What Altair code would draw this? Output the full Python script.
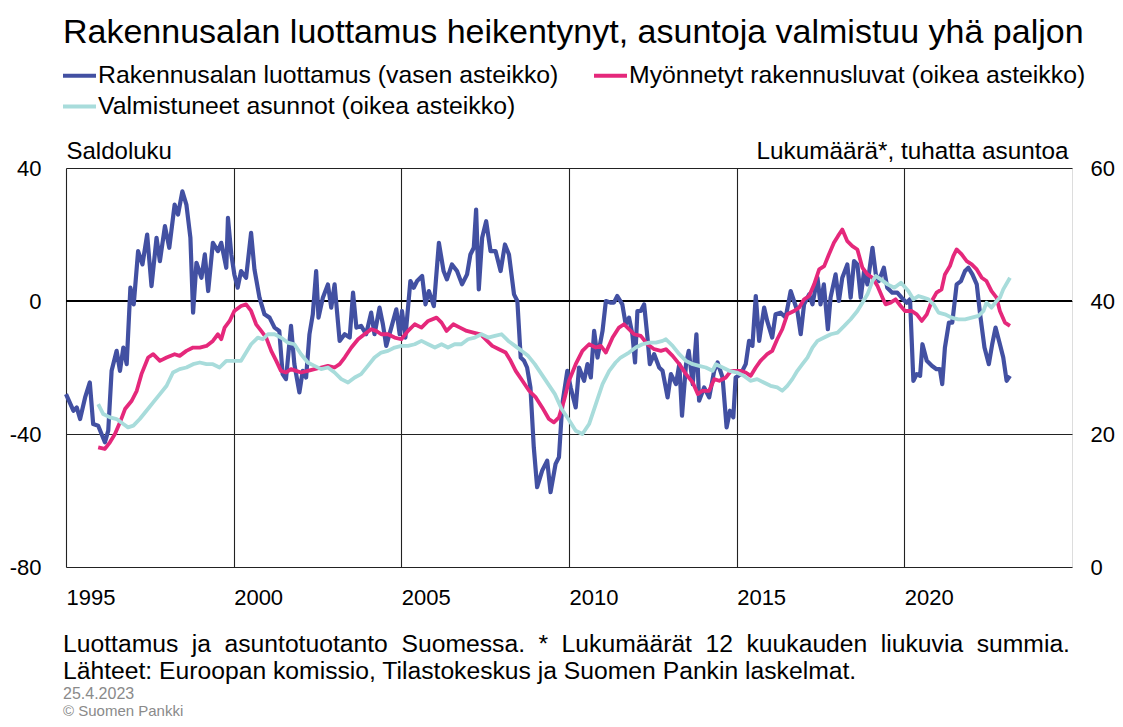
import altair as alt
import pandas as pd

FONT = "Liberation Sans"

S_BLUE = "Rakennusalan luottamus (vasen asteikko)"
S_PINK = "Myönnetyt rakennusluvat (oikea asteikko)"
S_CYAN = "Valmistuneet asunnot (oikea asteikko)"

# Rakennusalan luottamus, saldoluku (left scale): (year, value)
blue_points = [
    (1995.00, -28), (1995.22, -33), (1995.32, -32), (1995.42, -35.5), (1995.57, -29),
    (1995.71, -24.5), (1995.81, -37), (1995.96, -37.5), (1996.06, -40), (1996.16, -42.5),
    (1996.26, -39), (1996.36, -21), (1996.51, -15), (1996.61, -21), (1996.71, -14),
    (1996.81, -19), (1996.92, 4), (1997.02, -1), (1997.15, 15), (1997.28, 11),
    (1997.42, 20), (1997.55, 4.5), (1997.70, 19), (1997.80, 12), (1997.95, 22.5),
    (1998.08, 16), (1998.24, 29), (1998.34, 26), (1998.47, 33), (1998.59, 29),
    (1998.71, 19), (1998.79, -3.5), (1998.89, 11.5), (1999.04, 7), (1999.14, 14),
    (1999.24, 3), (1999.38, 17.5), (1999.53, 15), (1999.63, 17.5), (1999.78, 10),
    (1999.83, 25), (1999.93, 14),
    (2000.02, 8), (2000.12, 4), (2000.22, 9), (2000.37, 7), (2000.52, 20.5),
    (2000.62, 9.5), (2000.77, 1), (2000.92, -4), (2001.07, -5), (2001.22, -8),
    (2001.36, -9), (2001.46, -22), (2001.56, -23.5), (2001.71, -7.5), (2001.81, -19),
    (2001.96, -27.5), (2002.06, -21), (2002.16, -23), (2002.26, -10), (2002.36, -4),
    (2002.46, 9), (2002.53, -5), (2002.66, 1), (2002.81, 5), (2002.91, -2),
    (2003.01, 5), (2003.16, -12), (2003.31, -10), (2003.46, -11), (2003.56, 2.5),
    (2003.66, -8), (2003.80, -7.5), (2003.95, -10), (2004.10, -3.5), (2004.20, -10),
    (2004.35, -2), (2004.45, -7), (2004.55, -13.5), (2004.70, -8), (2004.85, -2.5),
    (2004.95, -10),
    (2005.02, -3), (2005.12, -11), (2005.27, 6), (2005.37, 4), (2005.47, 6),
    (2005.62, 7.5), (2005.72, -1), (2005.82, 3), (2005.97, -1.5), (2006.12, 17.5),
    (2006.26, 9), (2006.36, 6.5), (2006.51, 11), (2006.66, 9), (2006.81, 5),
    (2006.96, 8), (2007.06, 14), (2007.16, 16), (2007.23, 27.5), (2007.31, 3.5),
    (2007.41, 19), (2007.53, 24), (2007.66, 15), (2007.81, 15), (2007.96, 9),
    (2008.09, 17), (2008.21, 14), (2008.36, 2), (2008.46, 0), (2008.56, -17),
    (2008.66, -18), (2008.75, -20), (2008.85, -26), (2008.95, -44), (2009.05, -56),
    (2009.20, -51), (2009.35, -48), (2009.45, -57.5), (2009.60, -49), (2009.70, -47),
    (2009.80, -31), (2009.95, -21),
    (2010.05, -26), (2010.20, -32), (2010.30, -20), (2010.45, -24), (2010.55, -19),
    (2010.65, -23), (2010.75, -9), (2010.85, -17), (2011.00, -9), (2011.10, 0),
    (2011.25, -0.5), (2011.34, -0.5), (2011.44, 1.5), (2011.59, -1), (2011.69, -7),
    (2011.79, -5), (2011.89, -10), (2011.97, -18.5), (2012.04, -3), (2012.14, -3),
    (2012.24, -1), (2012.34, -11), (2012.41, -19), (2012.54, -16), (2012.69, -20),
    (2012.79, -21), (2012.94, -29), (2013.04, -22), (2013.19, -25), (2013.29, -19),
    (2013.37, -34.5), (2013.49, -19), (2013.57, -15), (2013.69, -25), (2013.80, -10),
    (2013.88, -30), (2014.03, -26), (2014.18, -29), (2014.33, -21), (2014.43, -18.5),
    (2014.58, -23), (2014.70, -38), (2014.80, -33), (2014.90, -35),
    (2014.97, -23), (2015.12, -22), (2015.27, -19), (2015.37, -12), (2015.47, -13.5),
    (2015.57, 1.5), (2015.67, -12), (2015.82, -2), (2015.91, -6), (2016.06, -11),
    (2016.16, -4), (2016.31, -3.5), (2016.46, -5), (2016.61, 3), (2016.71, 0),
    (2016.81, -3), (2016.91, -10), (2017.01, -1), (2017.16, 2), (2017.26, -1),
    (2017.41, 7), (2017.50, -1), (2017.60, 5), (2017.72, -8.5), (2017.80, 1),
    (2017.95, 8), (2018.05, 0), (2018.15, 7), (2018.30, 11), (2018.40, 1),
    (2018.50, 12), (2018.60, 11), (2018.70, 1), (2018.80, 9), (2018.90, 5),
    (2019.05, 16), (2019.15, 8), (2019.24, 6), (2019.39, 10), (2019.49, 4),
    (2019.64, 2.5), (2019.79, 2.5),
    (2019.92, 1), (2020.07, -0.5), (2020.17, 0.5), (2020.27, -24), (2020.37, -22),
    (2020.47, -22.5), (2020.54, -13), (2020.67, -18), (2020.82, -19.5), (2020.96, -20.5),
    (2021.06, -20.5), (2021.13, -25), (2021.21, -14), (2021.33, -6.5), (2021.43, -6.5),
    (2021.56, 5), (2021.69, 6), (2021.81, 9), (2021.91, 10), (2022.03, 8),
    (2022.16, 5), (2022.26, -4), (2022.39, -14), (2022.52, -19), (2022.62, -13),
    (2022.72, -8), (2022.85, -13), (2022.95, -17), (2023.05, -24), (2023.15, -22.5),
]

# Myönnetyt rakennusluvat, tuhatta asuntoa (right scale)
pink_points = [
    (1995.96, 18.0), (1996.16, 17.75), (1996.31, 18.75), (1996.46, 20), (1996.61, 21.75),
    (1996.76, 23.75), (1996.96, 25), (1997.11, 26.5), (1997.25, 29), (1997.45, 31.5),
    (1997.60, 32), (1997.80, 31), (1998.00, 31.5), (1998.24, 32), (1998.39, 31.75),
    (1998.59, 32.5), (1998.79, 33), (1998.99, 33), (1999.19, 33.25), (1999.38, 34),
    (1999.53, 35), (1999.63, 34.25), (1999.73, 36), (1999.88, 37),
    (2000.02, 38.5), (2000.22, 39.25), (2000.37, 39.5), (2000.52, 38.5), (2000.67, 36.5),
    (2000.82, 35.5), (2000.97, 34.5), (2001.12, 32.5), (2001.27, 31), (2001.41, 29.5),
    (2001.56, 29.25), (2001.71, 29.75), (2001.86, 29.5), (2002.01, 29.25), (2002.21, 29.5),
    (2002.41, 29.75), (2002.61, 30), (2002.81, 30.25), (2003.01, 30), (2003.16, 30.5),
    (2003.31, 31.5), (2003.51, 33), (2003.71, 34.25), (2003.90, 35), (2004.10, 35.75),
    (2004.25, 35.5), (2004.40, 35), (2004.60, 35), (2004.80, 34.5), (2005.00, 34.25),
    (2005.20, 35.5), (2005.40, 36.5), (2005.60, 36), (2005.80, 37), (2006.05, 37.5),
    (2006.20, 36.75), (2006.35, 35.5), (2006.55, 36.5), (2006.75, 36), (2006.95, 35.5),
    (2007.15, 35.25), (2007.36, 35), (2007.56, 34), (2007.71, 33.25), (2007.91, 32.75),
    (2008.11, 32.25), (2008.26, 31), (2008.41, 29.5), (2008.61, 28), (2008.81, 26.5),
    (2009.01, 25.5), (2009.20, 24), (2009.40, 22.25), (2009.55, 21.75), (2009.70, 22.5),
    (2009.85, 25), (2010.00, 28),
    (2010.20, 30.5), (2010.40, 32.5), (2010.60, 33.5), (2010.80, 33), (2010.95, 33.25),
    (2011.10, 32.25), (2011.30, 34.5), (2011.49, 36), (2011.64, 36.5), (2011.79, 35.75),
    (2011.94, 35), (2012.14, 34.75), (2012.34, 33.5), (2012.54, 32.75), (2012.74, 32.5),
    (2012.89, 32.75), (2013.09, 31.75), (2013.29, 30.5), (2013.49, 29), (2013.69, 27.75),
    (2013.84, 26), (2013.98, 26.5), (2014.18, 26.5), (2014.33, 28.25), (2014.48, 28),
    (2014.68, 28.5), (2014.83, 29.5),
    (2015.12, 29.5), (2015.27, 29.25), (2015.42, 28.75), (2015.57, 30), (2015.71, 31),
    (2015.91, 32), (2016.06, 32.5), (2016.21, 34.25), (2016.36, 35.75), (2016.51, 38),
    (2016.71, 38.5), (2016.86, 39), (2017.01, 40.25), (2017.16, 40.75), (2017.31, 42.5),
    (2017.46, 44.75), (2017.61, 45.25), (2017.75, 47), (2017.90, 48.75), (2018.02, 49.75),
    (2018.15, 50.75), (2018.30, 49), (2018.45, 48.25), (2018.60, 47.75), (2018.75, 45),
    (2018.90, 44), (2019.05, 43.5), (2019.20, 42.25), (2019.35, 40.5), (2019.44, 39.5),
    (2019.59, 39.75), (2019.74, 40.25), (2019.89, 39.25),
    (2020.02, 38.5), (2020.22, 38.5), (2020.37, 38), (2020.52, 37), (2020.67, 38),
    (2020.82, 40), (2020.96, 41.25), (2021.11, 41.75), (2021.21, 44), (2021.36, 45.25),
    (2021.46, 46.75), (2021.56, 47.75), (2021.71, 47), (2021.86, 46), (2022.01, 45.5),
    (2022.16, 44.75), (2022.31, 43.5), (2022.45, 43), (2022.60, 41.5), (2022.75, 40.5),
    (2022.85, 38.5), (2023.00, 36.75), (2023.15, 36.25),
]

# Valmistuneet asunnot, tuhatta asuntoa (right scale)
cyan_points = [
    (1995.96, 24.5), (1996.11, 23), (1996.31, 22.5), (1996.51, 22.25), (1996.71, 21.5),
    (1996.85, 21), (1997.01, 21.25), (1997.20, 22.25), (1997.40, 23.5), (1997.60, 24.75),
    (1997.80, 26), (1998.00, 27.25), (1998.19, 29.25), (1998.39, 29.75), (1998.59, 30),
    (1998.79, 30.5), (1998.99, 30.75), (1999.19, 30.5), (1999.38, 30.5), (1999.58, 30),
    (1999.78, 31), (1999.98, 31),
    (2000.22, 31), (2000.37, 32.25), (2000.52, 33.5), (2000.72, 34.5), (2000.87, 34.25),
    (2001.02, 35), (2001.22, 35), (2001.41, 34.5), (2001.61, 33.75), (2001.81, 33.5),
    (2002.01, 32), (2002.21, 30.75), (2002.41, 30.25), (2002.61, 29.75), (2002.81, 30),
    (2003.01, 29.25), (2003.21, 28.25), (2003.41, 27.75), (2003.61, 28.5), (2003.80, 29),
    (2004.00, 30.25), (2004.20, 31.5), (2004.40, 32.25), (2004.60, 32.5), (2004.80, 33),
    (2005.00, 33.25),
    (2005.20, 33.25), (2005.40, 33.5), (2005.60, 34), (2005.80, 33.5), (2006.00, 33),
    (2006.20, 33.5), (2006.39, 33), (2006.59, 33.5), (2006.79, 33.5), (2006.99, 34.25),
    (2007.19, 34.5), (2007.39, 35), (2007.59, 34.5), (2007.79, 34.75), (2007.99, 35),
    (2008.19, 34), (2008.39, 33.25), (2008.59, 32.5), (2008.78, 31.75), (2008.98, 30.5),
    (2009.18, 29), (2009.38, 27.5), (2009.58, 26), (2009.78, 23.75), (2009.98, 22.25),
    (2010.20, 20.5), (2010.40, 20), (2010.60, 21.5), (2010.80, 24.5), (2011.00, 27.5),
    (2011.20, 29.5), (2011.39, 30.75), (2011.54, 31.5), (2011.79, 32.25), (2011.99, 33),
    (2012.19, 33.5), (2012.39, 33.75), (2012.59, 33.75), (2012.79, 34), (2012.89, 34.25),
    (2013.09, 33.25), (2013.29, 32), (2013.49, 31), (2013.69, 30.5), (2013.88, 30.25),
    (2014.08, 30), (2014.28, 29.5), (2014.38, 30.5), (2014.58, 30), (2014.78, 29.5),
    (2015.00, 29.25), (2015.21, 28.75), (2015.41, 28), (2015.61, 28.25), (2015.81, 27.75),
    (2016.01, 27.25), (2016.21, 27), (2016.36, 26.5), (2016.51, 27.25), (2016.66, 28.25),
    (2016.81, 29.5), (2016.96, 30.5), (2017.11, 31.5), (2017.26, 33), (2017.41, 34),
    (2017.61, 34.5), (2017.81, 35), (2018.01, 35.25), (2018.21, 36.25), (2018.40, 37.25),
    (2018.60, 38.5), (2018.75, 39.75), (2018.90, 41), (2019.05, 43), (2019.15, 43.75),
    (2019.30, 43.25), (2019.50, 42.5), (2019.70, 42), (2019.90, 42.75),
    (2020.12, 41.5), (2020.27, 40.25), (2020.42, 40.75), (2020.57, 40.5), (2020.72, 40.25),
    (2020.87, 39.5), (2021.02, 38.25), (2021.21, 38), (2021.41, 37.5), (2021.61, 37.25),
    (2021.81, 37.25), (2022.01, 37.5), (2022.21, 37.75), (2022.36, 38.5), (2022.45, 39.75),
    (2022.60, 39), (2022.75, 40), (2022.85, 40.5), (2022.95, 41.75), (2023.15, 43.5),
]

x_ticks = [1995, 2000, 2005, 2010, 2015, 2020]
x_domain = [1995, 2025]
left_ticks = [-80, -40, 0, 40]
left_domain = [-80, 40]
right_ticks = [0, 20, 40, 60]
right_domain = [0, 60]
zero_line = [0]

title_text = ["Rakennusalan luottamus heikentynyt, asuntoja valmistuu yhä paljon"]
note_words1 = ["Luottamus", "ja", "asuntotuotanto", "Suomessa.", "*", "Lukumäärät",
               "12", "kuukauden", "liukuvia", "summia."]
note_line2 = ["Lähteet: Euroopan komissio, Tilastokeskus ja Suomen Pankin laskelmat."]
date_text = ["25.4.2023"]
copy_text = ["© Suomen Pankki"]

# legend order is filled column by column: column 1 = blue, cyan; column 2 = pink
LEGEND_ORDER = [S_BLUE, S_CYAN, S_PINK]
COLORS = ["#4250A2", "#A8DCDB", "#E5287B"]

# Arial / Liberation Sans advance widths (1/1000 em), used to justify the first note line
ARIAL_W = {
    "L": 556, "u": 556, "o": 556, "t": 278, "a": 556, "m": 833, "s": 500, "j": 222,
    "n": 556, "S": 667, "e": 556, ".": 278, "*": 389, "k": 500, "ä": 556, "r": 333,
    "1": 556, "2": 556, "d": 556, "l": 222, "i": 222, "v": 500,
}


def frame(points, name):
    return pd.DataFrame({
        "year": [p[0] for p in points],
        "value": [p[1] for p in points],
        "series": name,
    })


df_blue = frame(blue_points, S_BLUE)
df_pink = frame(pink_points, S_PINK)
df_cyan = frame(cyan_points, S_CYAN)

x_enc = alt.X(
    "year:Q",
    scale=alt.Scale(domain=x_domain, nice=False, zero=False),
    axis=alt.Axis(
        values=x_ticks, format="d", title=None, grid=True, gridColor="#222222",
        gridWidth=1.1, gridOpacity=1, ticks=False, tickSize=0, domain=False,
        labelAlign="left", labelBaseline="alphabetic", labelPadding=37,
        labelFont=FONT, labelFontSize=22, labelColor="black",
        labelFlush=False, labelOverlap=False,
    ),
)

left_scale = alt.Scale(domain=left_domain, nice=False, zero=False)
left_axis = alt.Axis(
    values=left_ticks, orient="left", grid=True, gridColor="#222222", gridWidth=1.1,
    gridOpacity=1, ticks=False, tickSize=0, domain=False,
    labelExpr="'' + datum.value",
    labelPadding=25, labelFont=FONT, labelFontSize=22, labelColor="black",
    labelFlush=False, labelOverlap=False, labelBaseline="middle",
    title="Saldoluku", titleAngle=0, titleAlign="left", titleBaseline="alphabetic",
    titleX=0, titleY=-10, titleFont=FONT, titleFontSize=24, titleFontWeight="normal",
    titleColor="black",
)

right_scale = alt.Scale(domain=right_domain, nice=False, zero=False)
right_axis = alt.Axis(
    values=right_ticks, orient="right", grid=False, ticks=False, tickSize=0, domain=False,
    labelPadding=18, labelFont=FONT, labelFontSize=22, labelColor="black",
    labelFlush=False, labelOverlap=False, labelBaseline="middle",
    title="Lukumäärä*, tuhatta asuntoa", titleAngle=0, titleAlign="right",
    titleBaseline="alphabetic", titleX=-4, titleY=-10, titleFont=FONT, titleFontSize=24.3,
    titleFontWeight="normal", titleColor="black",
)

color_enc = alt.Color(
    "series:N",
    scale=alt.Scale(domain=LEGEND_ORDER, range=COLORS),
    legend=alt.Legend(
        orient="none", legendX=-5, legendY=-111, columns=2, title=None,
        symbolType="stroke", symbolSize=1089, symbolStrokeWidth=4,
        labelFont=FONT, labelFontSize=24.8, labelColor="black", labelLimit=800,
        labelOffset=0, columnPadding=27, rowPadding=0, padding=0,
    ),
)

zero_rule = alt.Chart(pd.DataFrame({"v": zero_line})).mark_rule(
    color="black", strokeWidth=2
).encode(y=alt.Y("v:Q", scale=left_scale, axis=left_axis))

blue_line = alt.Chart(df_blue).mark_line(strokeWidth=4.2, strokeJoin="round").encode(
    x=x_enc, y=alt.Y("value:Q", scale=left_scale, axis=left_axis), color=color_enc
)

pink_line = alt.Chart(df_pink).mark_line(strokeWidth=3.8, strokeJoin="round").encode(
    x=x_enc, y=alt.Y("value:Q", scale=right_scale, axis=right_axis), color=color_enc
)

cyan_line = alt.Chart(df_cyan).mark_line(strokeWidth=3.8, strokeJoin="round").encode(
    x=x_enc, y=alt.Y("value:Q", scale=right_scale, axis=right_axis), color=color_enc
)


def text_layer(lines, x, y, size, color="black"):
    return alt.Chart(pd.DataFrame({"t": lines})).mark_text(
        align="left", baseline="alphabetic", font=FONT, fontSize=size, color=color
    ).encode(text="t:N", x=alt.value(x), y=alt.value(y))


# justified first note line: spread the words over the full line width
NOTE_SIZE = 24.7
LINE_START, LINE_END = -3, 1004
word_w = [sum(ARIAL_W.get(c, 556) for c in w) / 1000 * NOTE_SIZE for w in note_words1]
gap = (LINE_END - LINE_START - sum(word_w)) / (len(note_words1) - 1)
note1_layers = []
pos = LINE_START
for w, ww in zip(note_words1, word_w):
    note1_layers.append(text_layer([w], round(pos, 1), 484, NOTE_SIZE))
    pos += ww + gap

left_group = alt.layer(zero_rule, blue_line)
right_group = alt.layer(pink_line, cyan_line)

chart = alt.layer(
    left_group,
    right_group,
    text_layer(title_text, -3, -125, 34),
    *note1_layers,
    text_layer(note_line2, -3, 511, NOTE_SIZE),
    text_layer(date_text, -3, 531, 16, "#8a8a8a"),
    text_layer(copy_text, -3, 548, 15, "#8a8a8a"),
).resolve_scale(y="independent").properties(
    width=1006,
    height=399,
    autosize=alt.AutoSizeParams(type="none"),
    padding={"left": 58, "top": 160, "right": 43, "bottom": 152},
).configure_view(stroke="black", strokeWidth=1.5).configure(background="white")

chart.save("out.html", embed_options={"renderer": "svg", "actions": False})
